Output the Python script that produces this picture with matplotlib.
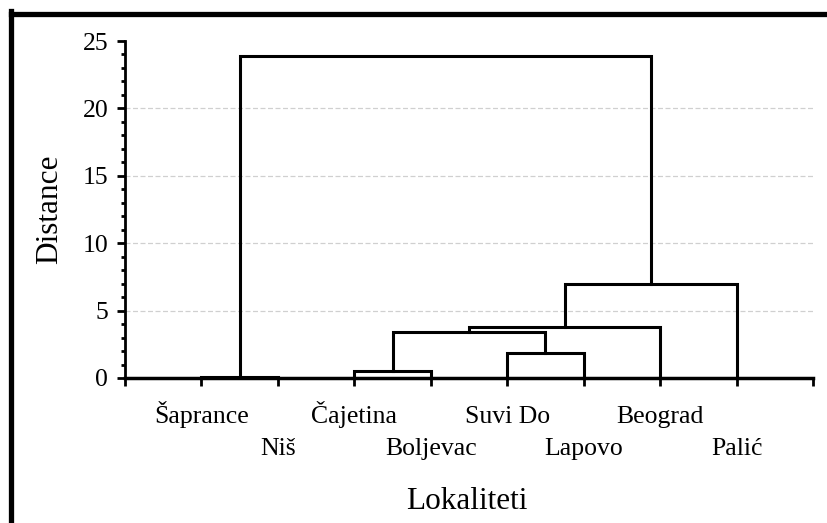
import matplotlib
matplotlib.use("Agg")
import matplotlib.pyplot as plt
from matplotlib.lines import Line2D
from matplotlib.ticker import MultipleLocator

# Leaves in dendrogram order
leaves = ["Šaprance", "Niš", "Čajetina", "Boljevac", "Suvi Do", "Lapovo", "Beograd", "Palić"]
# Linkage: (cluster a, cluster b, height); new clusters numbered from len(leaves)
merge_a = [0, 2, 4, 9, 11, 12, 8]
merge_b = [1, 3, 5, 10, 6, 7, 13]
heights = [0.05, 0.55, 1.85, 3.4, 3.8, 6.95, 23.9]
yticks = [0, 5, 10, 15, 20, 25]

plt.rcParams['font.family'] = ['Liberation Serif', 'DejaVu Serif']

fig = plt.figure(figsize=(8.28, 5.23), dpi=100)
ax = fig.add_axes([125/828, 1-378/523, (813-125)/828, (378-41)/523])

pos = {i: i + 1 for i in range(len(leaves))}
hgt = {i: 0.0 for i in range(len(leaves))}
n = len(leaves)
for k, (a, b, h) in enumerate(zip(merge_a, merge_b, heights)):
    xa, xb = pos[a], pos[b]
    ax.plot([xa, xa, xb, xb], [hgt[a], h, h, hgt[b]], color='black', lw=2.2,
            solid_joinstyle='miter', zorder=3, clip_on=False)
    pos[n + k] = (xa + xb) / 2
    hgt[n + k] = h

ax.set_xlim(0, len(leaves) + 1)
ax.set_ylim(0, 25)
ax.set_yticks(yticks)
ax.yaxis.set_minor_locator(MultipleLocator(1))
ax.set_xticks(range(0, len(leaves) + 2))
ax.set_xticklabels([])
ax.tick_params(axis='x', direction='out', length=6, width=2)
ax.tick_params(axis='y', which='major', direction='out', length=6, width=2, labelsize=18.5, pad=6)
ax.tick_params(axis='y', which='minor', direction='out', length=3, width=2)

# staggered leaf labels
tr = ax.get_xaxis_transform()
for i, name in enumerate(leaves):
    yb = -0.1335 if i % 2 == 0 else -0.2285
    ax.text(i + 1, yb, name, transform=tr, ha='center', va='baseline', fontsize=18.5)

for s in ['top', 'right']:
    ax.spines[s].set_visible(False)
ax.spines['left'].set_linewidth(2)
ax.spines['bottom'].set_linewidth(2.5)
ax.spines['bottom'].set_zorder(4)

for y in yticks[1:-1]:
    ax.axhline(y, color='#d0d0d0', lw=0.9, ls=(0, (4, 2)), zorder=1)

ax.set_ylabel("Distance", fontsize=22.5, labelpad=13.5)
ax.set_xlabel("Lokaliteti", fontsize=22.5)
ax.xaxis.set_label_coords(0.497, -0.322)

# outer frame (top and left)
fig.add_artist(Line2D([11.5/828, 11.5/828], [0, 1-11/523], color='black', lw=3.8,
                      transform=fig.transFigure, solid_capstyle='projecting'))
fig.add_artist(Line2D([11.5/828, 1], [1-13.5/523, 1-13.5/523], color='black', lw=3.8,
                      transform=fig.transFigure, solid_capstyle='projecting'))

fig.savefig("out.png", dpi=100)
